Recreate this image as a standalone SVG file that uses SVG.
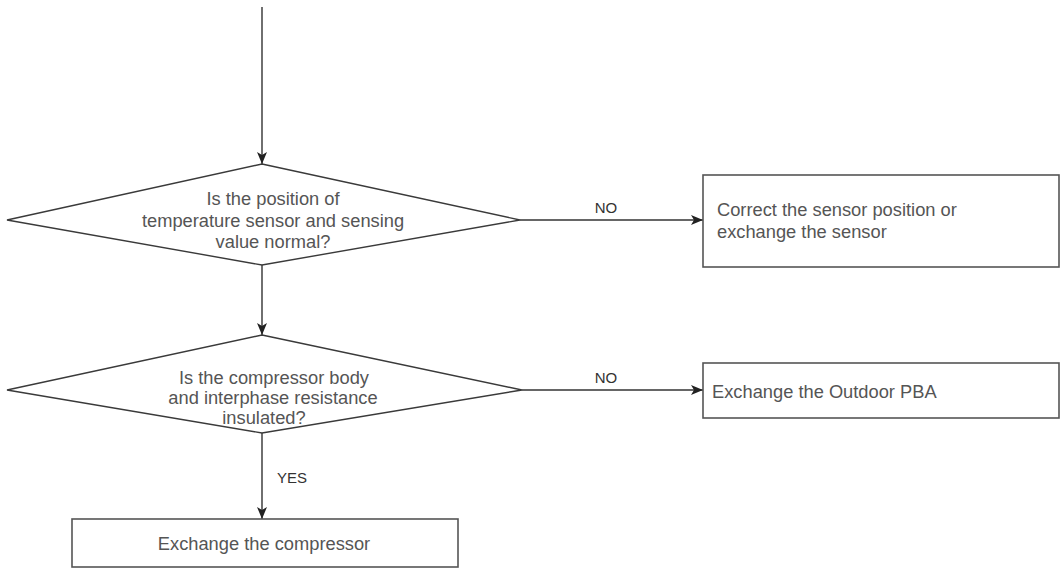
<svg xmlns="http://www.w3.org/2000/svg" width="1061" height="575" viewBox="0 0 1061 575">
<style>
.shape{fill:#fff;stroke:#3a3a3a;stroke-width:1.4}
.box{fill:#fff;stroke:#555;stroke-width:1.6}
.line{fill:none;stroke:#333;stroke-width:1.4}
.t{font-family:"Liberation Sans",Arial,sans-serif;font-size:18.3px;fill:#555}
.lbl{font-family:"Liberation Sans",Arial,sans-serif;font-size:15px;fill:#333}
</style>
<defs>
<marker id="arr" viewBox="0 0 12 10" refX="12" refY="5" markerWidth="12" markerHeight="10" markerUnits="userSpaceOnUse" orient="auto">
<path d="M0,0 L12,5 L0,10 L3,5 Z" fill="#222"/>
</marker>
</defs>
<rect width="1061" height="575" fill="#fff"/>
<g id="connectors">
<line class="line" x1="262" y1="7" x2="262" y2="164" marker-end="url(#arr)"/>
<line class="line" x1="520" y1="220" x2="703" y2="220" marker-end="url(#arr)"/>
<line class="line" x1="262" y1="265" x2="262" y2="335" marker-end="url(#arr)"/>
<line class="line" x1="522" y1="390" x2="703" y2="390" marker-end="url(#arr)"/>
<line class="line" x1="262" y1="433" x2="262" y2="519" marker-end="url(#arr)"/>
<text class="lbl" x="606" y="213" text-anchor="middle">NO</text>
<text class="lbl" x="606" y="383" text-anchor="middle">NO</text>
<text class="lbl" x="277" y="483">YES</text>
</g>
<g id="decision1">
<polygon class="shape" points="262,164 520,220 262,265 7,220"/>
<text class="t" x="273" y="205" text-anchor="middle">Is the position of</text>
<text class="t" x="273" y="227" text-anchor="middle">temperature sensor and sensing</text>
<text class="t" x="273" y="248" text-anchor="middle">value normal?</text>
</g>
<g id="action1">
<rect class="box" x="703" y="175" width="356" height="92"/>
<text class="t" x="717" y="216">Correct the sensor position or</text>
<text class="t" x="717" y="238">exchange the sensor</text>
</g>
<g id="decision2">
<polygon class="shape" points="262,335 522,390 262,433 7,390"/>
<text class="t" x="274" y="384" text-anchor="middle">Is the compressor body</text>
<text class="t" x="273" y="404" text-anchor="middle">and interphase resistance</text>
<text class="t" x="264" y="424" text-anchor="middle">insulated?</text>
</g>
<g id="action2">
<rect class="box" x="703" y="363" width="356" height="55"/>
<text class="t" x="712" y="398">Exchange the Outdoor PBA</text>
</g>
<g id="action3">
<rect class="box" x="72" y="519" width="386" height="48"/>
<text class="t" x="264" y="550" text-anchor="middle">Exchange the compressor</text>
</g>
</svg>
